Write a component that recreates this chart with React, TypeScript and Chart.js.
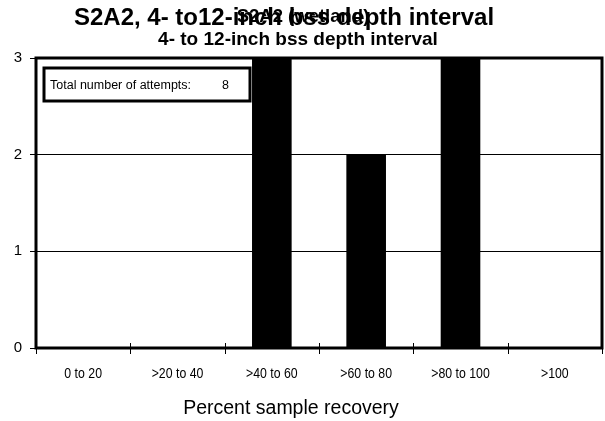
import React, { useEffect, useRef } from "react";
import { Chart, registerables } from "chart.js";

Chart.register(...registerables);

const categories = ["0 to 20", ">20 to 40", ">40 to 60", ">60 to 80", ">80 to 100", ">100"];
const counts = [0, 0, 3, 2, 3, 0];
const yTicks = [0, 1, 2, 3];
const titleMain = "S2A2, 4- to12-inch bss depth interval";
const titleOverlay = "S2A2 (wetland)";
const subtitle = "4- to 12-inch bss depth interval";
const xTitle = "Percent sample recovery";
const boxLabel = "Total number of attempts:";
const totalAttempts = 8;

const FONT = "'Liberation Sans', Arial, sans-serif";

const decorPlugin = {
  id: "decor",
  beforeDraw(chart: any) {
    const ctx = chart.ctx;
    ctx.save();
    ctx.fillStyle = "#ffffff";
    ctx.fillRect(0, 0, chart.width, chart.height);
    ctx.restore();
  },
  afterDraw(chart: any) {
    const ctx = chart.ctx;
    const a = chart.chartArea;
    const xs = chart.scales.x;
    ctx.save();
    // titles
    ctx.fillStyle = "#000";
    ctx.textAlign = "center";
    ctx.textBaseline = "alphabetic";
    ctx.font = `bold 24px ${FONT}`;
    ctx.fillText(titleMain, 284, 25);
    ctx.font = `bold 18.5px ${FONT}`;
    ctx.fillText(titleOverlay, 303, 22);
    ctx.font = `bold 19px ${FONT}`;
    ctx.fillText(subtitle, 298, 45);
    // plot border
    ctx.strokeStyle = "#000";
    ctx.lineWidth = 3;
    ctx.strokeRect(a.left, a.top, a.right - a.left, a.bottom - a.top);
    // x tick marks crossing the axis
    ctx.lineWidth = 1;
    for (let i = 0; i <= categories.length; i++) {
      const x = Math.round(xs.getPixelForValue(i - 0.5)) + 0.5;
      ctx.beginPath();
      ctx.moveTo(x, a.bottom - 5);
      ctx.lineTo(x, a.bottom + 6);
      ctx.stroke();
    }
    // x tick labels (narrow)
    ctx.font = `15px ${FONT}`;
    ctx.textAlign = "center";
    ctx.textBaseline = "middle";
    categories.forEach((c, i) => {
      const x = xs.getPixelForValue(i);
      ctx.save();
      ctx.translate(x, 374);
      ctx.scale(0.82, 1);
      ctx.fillText(c, 0, 0);
      ctx.restore();
    });
    // x axis title
    ctx.font = `19.5px ${FONT}`;
    ctx.textBaseline = "alphabetic";
    ctx.fillText(xTitle, 291, 414);
    // box
    const bx = 44;
    const by = 68;
    const bw = 206;
    const bh = 33;
    ctx.lineWidth = 3;
    ctx.fillStyle = "#fff";
    ctx.fillRect(bx, by, bw, bh);
    ctx.strokeRect(bx, by, bw, bh);
    ctx.fillStyle = "#000";
    ctx.textAlign = "left";
    ctx.textBaseline = "middle";
    ctx.font = `12.5px ${FONT}`;
    ctx.fillText(boxLabel, 50, by + bh / 2 + 1);
    ctx.fillText(String(totalAttempts), 222, by + bh / 2 + 1);
    ctx.restore();
  },
};

export default function App() {
  const ref = useRef<HTMLCanvasElement | null>(null);
  useEffect(() => {
    document.body.style.margin = "0";
    const canvas = ref.current!;
    const chart = new Chart(canvas, {
      type: "bar",
      data: {
        labels: categories,
        datasets: [
          {
            data: counts,
            backgroundColor: "#000",
            borderWidth: 0,
            barPercentage: 0.42,
            categoryPercentage: 1,
          },
        ],
      },
      options: {
        responsive: false,
        animation: false,
        devicePixelRatio: 1,
        layout: { padding: { top: 58, right: 3, left: 0, bottom: 0 } },
        plugins: {
          legend: { display: false },
          title: { display: false },
          tooltip: { enabled: false },
        },
        scales: {
          x: {
            grid: { display: false, offset: true },
            border: { display: false },
            ticks: { display: false },
            afterFit(scale: any) {
              scale.height = 421 - 348;
            },
          },
          y: {
            min: 0,
            max: 3,
            afterBuildTicks(scale: any) {
              scale.ticks = yTicks.map((v) => ({ value: v }));
            },
            grid: { color: "#000", lineWidth: 1, tickLength: 6, drawTicks: true },
            border: { display: false },
            ticks: {
              color: "#000",
              font: { family: FONT, size: 15 },
              padding: 8,
            },
            afterFit(scale: any) {
              scale.width = 36;
            },
          },
        },
      },
      plugins: [decorPlugin],
    });
    return () => chart.destroy();
  }, []);
  return <canvas ref={ref} width={605} height={421} style={{ display: "block" }} />;
}
